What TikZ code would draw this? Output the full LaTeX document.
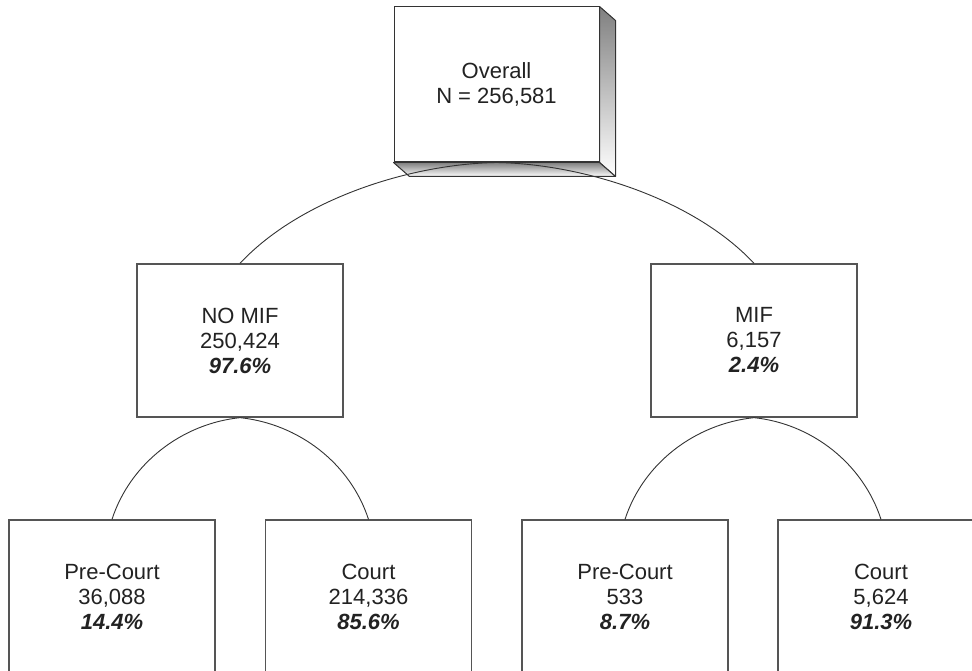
\documentclass[tikz,border=0pt]{standalone}
\usepackage{fontspec}
\setmainfont{Liberation Sans}
\definecolor{boxline}{HTML}{555555}
\definecolor{edge}{HTML}{333333}
\definecolor{shade}{RGB}{194,197,202}
\definecolor{txt}{HTML}{222222}
\begin{document}
\begin{tikzpicture}[x=1pt,y=1pt,
  box/.style={draw=boxline, line width=1.3pt, fill=white, minimum width=206pt,
    minimum height=153pt, align=center, inner sep=0pt, text=txt,
    font=\fontsize{22}{25}\selectfont},
  link/.style={draw=edge, line width=0.9pt}]
\useasboundingbox (0,0) rectangle (972,-671);
\clip (0,0) rectangle (972,-671);
% 3D top box
\node[box, draw=edge, line width=1pt, minimum width=205pt, minimum height=155pt] (top) at (496.5,-84.5) {};
\fill[shade, draw=edge, line width=1pt, line join=round]
  (top.north east) -- ++(16,-14) -- ([shift={(16,-14)}]top.south east) -- (top.south east) -- cycle;
\fill[shade, draw=edge, line width=1pt, line join=round]
  (top.south west) -- (top.south east) -- ([shift={(16,-14)}]top.south east) -- ([shift={(16,-14)}]top.south west) -- cycle;
\node[box, draw=edge, line width=1pt, minimum width=205pt, minimum height=155pt] (front) at (top) {Overall\\N = 256,581};
% second level
\node[box] (nomif) at (240,-340.5) {NO MIF\\250,424\\\textbf{\textit{97.6\%}}};
\node[box] (mif) at (754,-340.5) {MIF\\6,157\\\textbf{\textit{2.4\%}}};
% third level
\node[box] (pc1) at (112,-596.5) {Pre-Court\\36,088\\\textbf{\textit{14.4\%}}};
\node[box] (c1) at (368.5,-596.5) {Court\\214,336\\\textbf{\textit{85.6\%}}};
\node[box] (pc2) at (625,-596.5) {Pre-Court\\533\\\textbf{\textit{8.7\%}}};
\node[box] (c2) at (881,-596.5) {Court\\5,624\\\textbf{\textit{91.3\%}}};
% arcs
\draw[link] (front.south) to[out=181,in=47,looseness=0.81] (nomif.north);
\draw[link] (front.south) to[out=-1,in=133,looseness=0.81] (mif.north);
\draw[link] (nomif.south) to[out=186,in=72,looseness=0.92] (pc1.north);
\draw[link] (nomif.south) to[out=-6,in=108,looseness=0.92] (c1.north);
\draw[link] (mif.south) to[out=186,in=72,looseness=0.92] (pc2.north);
\draw[link] (mif.south) to[out=-6,in=108,looseness=0.92] (c2.north);
\end{tikzpicture}
\end{document}
